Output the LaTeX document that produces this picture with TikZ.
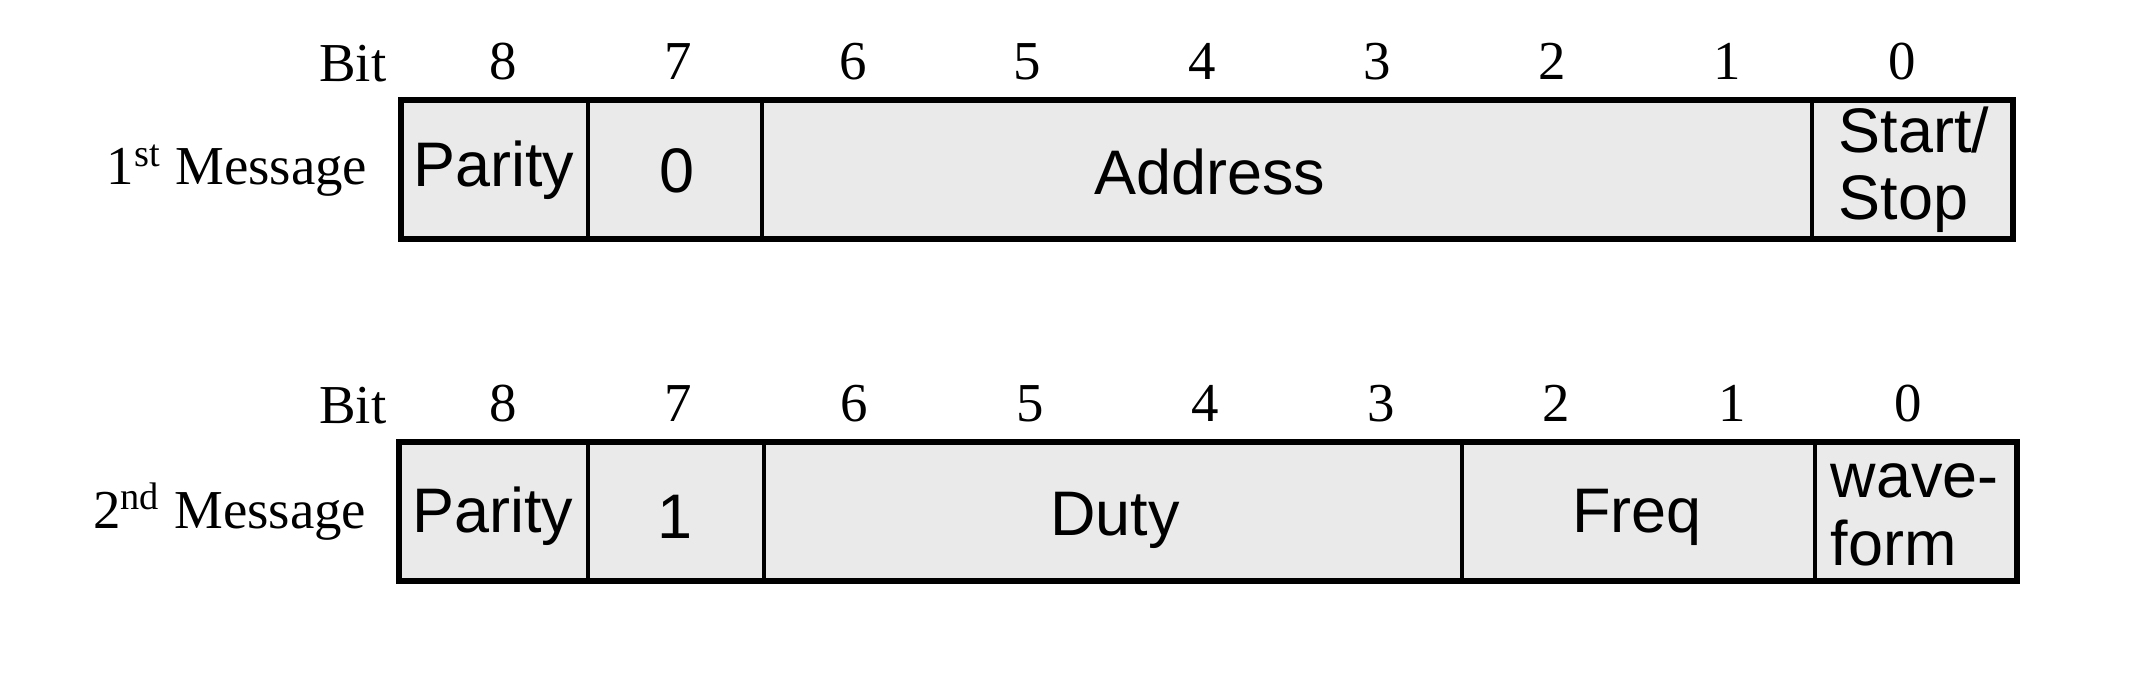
\documentclass[tikz,border=0pt]{standalone}
\usepackage{fontspec}
\setmainfont{Liberation Serif}
\newfontfamily\fieldfont{Liberation Sans}
\definecolor{cellgray}{HTML}{EAEAEA}
\tikzset{
    label/.style={font=\fontsize{15.6}{18}\selectfont, inner sep=0pt},
    field/.style={font=\fieldfont\fontsize{17.9}{19.1}\selectfont, inner sep=0pt, align=left},
    frame/.style={line width=1.6pt},
    divider/.style={line width=1.3pt},
}
\begin{document}
\begin{tikzpicture}[x=0.01cm, y=-0.01cm]
    \useasboundingbox (0,0) rectangle (2138,676);
    % first message
    \node[label, anchor=base east] (bitA) at (387,82) {Bit};
    \foreach \b in {0,...,8}
        \node[label, anchor=base] (bitA\b) at ({503+(8-\b)*174.9},80) {\b};
    \node[label, anchor=base east] (msgA) at (368,185) {1\textsuperscript{st} Message};
    \fill[cellgray] (401,100) rectangle (2013,239);
    \foreach \x in {588,762,1812}
        \draw[divider] (\x,100) -- (\x,239);
    \draw[frame] (401,100) rectangle (2013,239);
    \node[field, anchor=base] (parityA) at (494,187) {Parity};
    \node[field, anchor=base] (flagA) at (677,193) {0};
    \node[field, anchor=base] (address) at (1210,195) {Address};
    \node[field, anchor=base west] (startstop) at (1838,220) {Start/\\Stop};
    % second message
    \node[label, anchor=base east] (bitB) at (387,423) {Bit};
    \foreach \b in {0,...,8}
        \node[label, anchor=base] (bitB\b) at ({503+(8-\b)*175.6},422) {\b};
    \node[label, anchor=base east] (msgB) at (367,528) {2\textsuperscript{nd} Message};
    \fill[cellgray] (399,442) rectangle (2017,581);
    \foreach \x in {588,764,1462,1815}
        \draw[divider] (\x,442) -- (\x,581);
    \draw[frame] (399,442) rectangle (2017,581);
    \node[field, anchor=base] (parityB) at (493,532) {Parity};
    \node[field, anchor=base] (flagB) at (675,538) {1};
    \node[field, anchor=base] (duty) at (1115,535) {Duty};
    \node[field, anchor=base] (freq) at (1637,533) {Freq};
    \node[field, anchor=base west] (waveform) at (1830,565) {wave-\\form};
\end{tikzpicture}
\end{document}
